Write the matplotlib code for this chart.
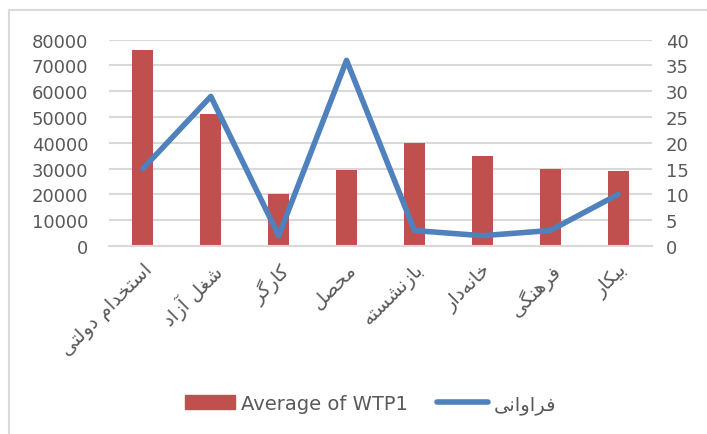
import numpy as np
import matplotlib
matplotlib.use('Agg')
from matplotlib import pyplot as plt
from matplotlib.lines import Line2D
from matplotlib.patches import Patch

# data
categories = ["استخدام دولتی", "شغل آزاد", "کارگر", "محصل",
              "بازنشسته", "خانه\u200cدار", "فرهنگی", "بیکار"]
wtp_avg = [76000, 51000, 20000, 29600, 40000, 35000, 30000, 29000]
frequency = [15, 29, 2, 36, 3, 2, 3, 10]
left_ticks = list(range(0, 80001, 10000))
right_ticks = list(range(0, 41, 5))
bar_label = "Average of WTP1"
line_label = "فراوانی"

RED = "#C0504D"
BLUE = "#4F81BD"
GRID = "#D9D9D9"
TXT = "#595959"

# matplotlib has no arabic shaping, so do it by hand (iso, fin, ini, med)
FORMS = {
    "ا": (0xFE8D, 0xFE8E, None, None), "آ": (0xFE81, 0xFE82, None, None),
    "د": (0xFEA9, 0xFEAA, None, None), "ر": (0xFEAD, 0xFEAE, None, None),
    "ز": (0xFEAF, 0xFEB0, None, None), "و": (0xFEED, 0xFEEE, None, None),
    "ب": (0xFE8F, 0xFE90, 0xFE91, 0xFE92), "ت": (0xFE95, 0xFE96, 0xFE97, 0xFE98),
    "ح": (0xFEA1, 0xFEA2, 0xFEA3, 0xFEA4), "خ": (0xFEA5, 0xFEA6, 0xFEA7, 0xFEA8),
    "س": (0xFEB1, 0xFEB2, 0xFEB3, 0xFEB4), "ش": (0xFEB5, 0xFEB6, 0xFEB7, 0xFEB8),
    "ص": (0xFEB9, 0xFEBA, 0xFEBB, 0xFEBC), "غ": (0xFECD, 0xFECE, 0xFECF, 0xFED0),
    "ف": (0xFED1, 0xFED2, 0xFED3, 0xFED4), "ل": (0xFEDD, 0xFEDE, 0xFEDF, 0xFEE0),
    "م": (0xFEE1, 0xFEE2, 0xFEE3, 0xFEE4), "ن": (0xFEE5, 0xFEE6, 0xFEE7, 0xFEE8),
    "ه": (0xFEE9, 0xFEEA, 0xFEEB, 0xFEEC), "ک": (0xFB8E, 0xFB8F, 0xFB90, 0xFB91),
    "گ": (0xFB92, 0xFB93, 0xFB94, 0xFB95), "ی": (0xFBFC, 0xFBFD, 0xFBFE, 0xFBFF),
}


def shape(text):                                # returns visual-order string
    out = []
    n = len(text)
    for i, ch in enumerate(text):
        if ch == "\u200c":
            continue
        if ch not in FORMS:
            out.append(ch)
            continue
        f = FORMS[ch]
        prev = text[i - 1] if i > 0 else ""
        nxt = text[i + 1] if i < n - 1 else ""
        jp = prev in FORMS and FORMS[prev][2] is not None
        jn = f[2] is not None and nxt in FORMS
        if jp and jn:
            code = f[3]
        elif jp:
            code = f[1]
        elif jn:
            code = f[2]
        else:
            code = f[0]
        out.append(chr(code))
    return "".join(out)[::-1]


plt.rcParams['font.family'] = ['DejaVu Sans']

fig = plt.figure(figsize=(7.07, 4.35), dpi=100)
ax = fig.add_axes([109 / 707, 1 - 247 / 435, 543 / 707, 206.3 / 435])
ax2 = ax.twinx()

x = np.arange(len(categories))
ax.bar(x, wtp_avg, width=0.31, color=RED, zorder=2)
ax.set_ylim(0, 80000)
ax.set_yticks(left_ticks)
ax.set_xlim(-0.5, len(categories) - 0.5)
ax.grid(axis="y", color=GRID, linewidth=1.5, zorder=0)
ax.set_axisbelow(True)

ax2.plot(x, frequency, color=BLUE, linewidth=4, solid_capstyle="round",
         solid_joinstyle="round", zorder=3)
ax2.set_ylim(0, 40)
ax2.set_yticks(right_ticks)

for a in (ax, ax2):
    for s in a.spines.values():
        s.set_visible(False)
    a.tick_params(length=0, labelsize=13, colors=TXT)
ax.spines["bottom"].set_visible(True)
ax.spines["bottom"].set_color(GRID)
ax.spines["bottom"].set_linewidth(1.5)
ax.tick_params(axis="y", pad=15)
ax2.tick_params(axis="y", pad=10)

ax.set_xticks(x)
ax.set_xticklabels([shape(c) for c in categories], rotation=45, ha="right",
                   va="top", rotation_mode="anchor", fontsize=14, color=TXT)
ax.tick_params(axis="x", pad=10)

# legend
handles = [Patch(color=RED, label=bar_label),
           Line2D([], [], color=BLUE, linewidth=4, solid_capstyle="round", label=shape(line_label))]
fig.legend(handles=handles, loc="center", bbox_to_anchor=(0.524, 0.069), ncol=2,
           frameon=False, fontsize=14, labelcolor=TXT, handlelength=2.6,
           handleheight=0.75, columnspacing=1.5, handletextpad=0.3)

# outer chart border
fig.add_artist(Line2D([9 / 707, 9 / 707], [0, 1 - 11 / 435], color=GRID, linewidth=1.5))
fig.add_artist(Line2D([9 / 707, 1], [1 - 11 / 435, 1 - 11 / 435], color=GRID, linewidth=1.5))

fig.savefig("out.png", dpi=100)
